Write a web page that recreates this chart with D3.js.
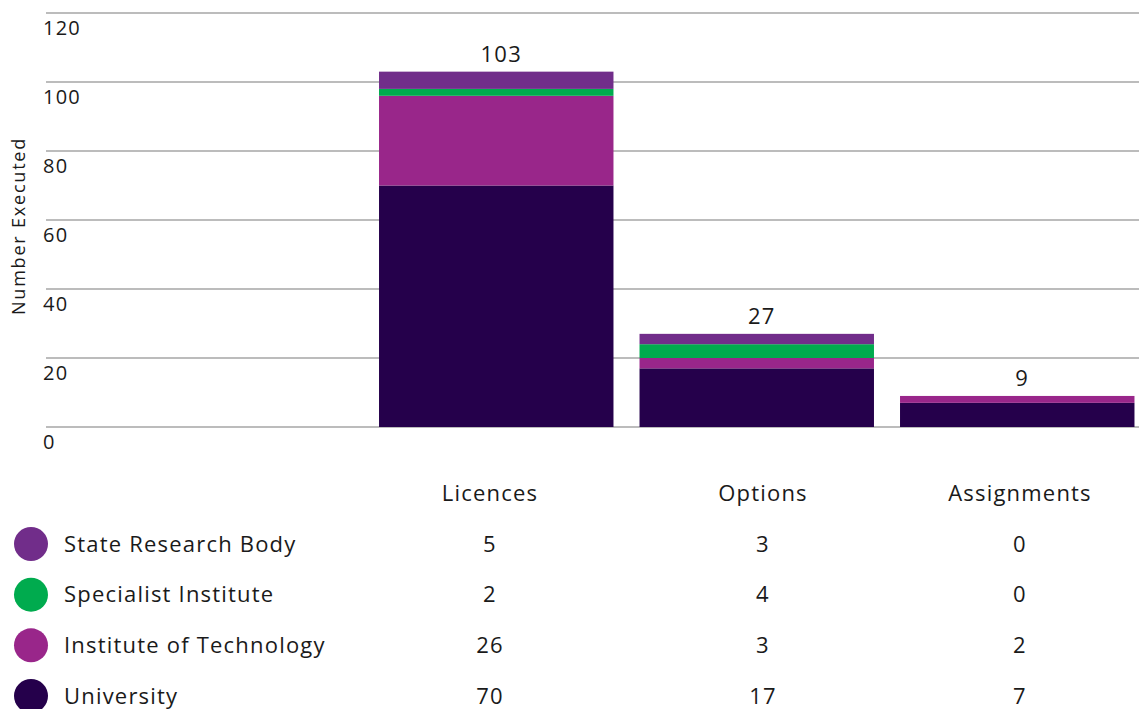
<!DOCTYPE html>
<html>
<head>
    <script src="https://d3js.org/d3.v7.min.js"></script>
    <style>
        body { margin: 0; background: #fff; }
        text { font-family: "Open Sans", sans-serif; fill: #1a1a1a; letter-spacing: 1.2px; }
    </style>
</head>
<body>
    <svg width="1139" height="709"></svg>
    <script>

        // data
        var categories = ["Licences", "Options", "Assignments"];
        var seriesNames = ["State Research Body", "Specialist Institute", "Institute of Technology", "University"];
        var stateResearch = [5, 3, 0];
        var specialist = [2, 4, 0];
        var instTech = [26, 3, 2];
        var university = [70, 17, 7];
        var yTicks = [0, 20, 40, 60, 80, 100, 120];
        var colours = ["#712d8a", "#00ab4e", "#99268a", "#25004b"];

        var seriesValues = [stateResearch, specialist, instTech, university];

        var svg = d3.select("svg"),
            width = +svg.attr("width"),
            height = +svg.attr("height");

        // table for the stack
        var table = categories.map(function(c, i) {
            var row = { category: c };
            seriesNames.forEach(function(s, j) { row[s] = seriesValues[j][i]; });
            return row;
        });

        var y = d3.scaleLinear().domain([0, 120]).range([427, 13]);

        var x = d3.scaleBand()
            .domain(categories)
            .range([366, 1147.5])
            .paddingInner(0.1)
            .paddingOuter(0.05);

        // the data table columns sit a little off the bar centres
        var col = d3.scaleOrdinal().domain(categories).range([490, 763, 1020]);

        var colour = d3.scaleOrdinal().domain(seriesNames).range(colours);

        // gridlines + tick labels
        var grid = svg.append("g");
        grid.selectAll("line")
            .data(yTicks)
            .enter().append("line")
            .attr("x1", 46)
            .attr("x2", width)
            .attr("y1", function(d) { return y(d); })
            .attr("y2", function(d) { return y(d); })
            .attr("stroke", "#a6a6a6")
            .attr("stroke-width", 1.5);

        grid.selectAll("text")
            .data(yTicks)
            .enter().append("text")
            .attr("x", 43)
            .attr("y", function(d) { return y(d) + 22; })
            .style("font-size", "20px")
            .text(function(d) { return d; });

        svg.append("text")
            .attr("transform", "translate(25," + 226 + ") rotate(-90)")
            .attr("text-anchor", "middle")
            .style("font-size", "18px")
            .style("letter-spacing", "1.8px")
            .text("Number Executed");

        // stacked bars (bottom series first)
        var stack = d3.stack().keys(seriesNames.slice().reverse());
        var layers = stack(table);

        svg.append("g").selectAll("g")
            .data(layers)
            .enter().append("g")
            .attr("fill", function(d) { return colour(d.key); })
            .selectAll("rect")
            .data(function(d) { return d; })
            .enter().append("rect")
            .attr("x", function(d) { return x(d.data.category); })
            .attr("width", x.bandwidth())
            .attr("y", function(d) { return y(d[1]); })
            .attr("height", function(d) { return y(d[0]) - y(d[1]); });

        // totals
        svg.append("g").selectAll("text")
            .data(table)
            .enter().append("text")
            .attr("x", function(d) { return x(d.category) + x.bandwidth() / 2 + 5; })
            .attr("y", function(d) {
                var total = d3.sum(seriesNames, function(s) { return d[s]; });
                return y(total) - 10;
            })
            .attr("text-anchor", "middle")
            .style("font-size", "22px")
            .text(function(d) { return d3.sum(seriesNames, function(s) { return d[s]; }); });

        // data table under the chart
        var rowY = d3.scalePoint().domain(seriesNames).range([544, 696]);

        svg.append("g").selectAll("text")
            .data(categories)
            .enter().append("text")
            .attr("x", function(d) { return col(d); })
            .attr("y", 493)
            .attr("dy", "0.35em")
            .attr("text-anchor", "middle")
            .style("font-size", "22px")
            .text(function(d) { return d; });

        var rows = svg.append("g").selectAll("g")
            .data(seriesNames)
            .enter().append("g")
            .attr("transform", function(d) { return "translate(0," + rowY(d) + ")"; });

        rows.append("circle")
            .attr("cx", 31)
            .attr("r", 17)
            .attr("fill", function(d) { return colour(d); });

        rows.append("text")
            .attr("x", 64)
            .attr("dy", "0.35em")
            .style("font-size", "22px")
            .text(function(d) { return d; });

        rows.selectAll("text.val")
            .data(function(s, j) { return seriesValues[j].map(function(v, i) { return { cat: categories[i], v: v }; }); })
            .enter().append("text")
            .attr("class", "val")
            .attr("x", function(d) { return col(d.cat); })
            .attr("dy", "0.35em")
            .attr("text-anchor", "middle")
            .style("font-size", "22px")
            .text(function(d) { return d.v; });

    </script>
</body>
</html>
